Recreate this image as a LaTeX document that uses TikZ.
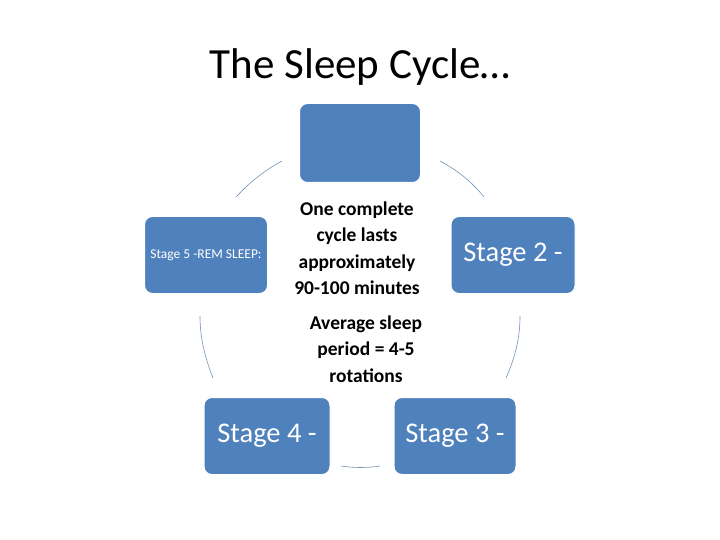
\documentclass[tikz,border=0pt]{standalone}
\usepackage{fontspec}
\setmainfont{Carlito}
\begin{document}
\begin{tikzpicture}[x=1pt,y=-1pt,
 box/.style={draw=white,line width=1pt,fill=boxblue,rounded corners=8pt,text=white,align=center,inner sep=0pt},
 big/.style={font=\fontsize{28.5}{32}\selectfont},
 mid/.style={align=center,font=\fontsize{19.5}{26.5}\selectfont\bfseries},
 arc/.style={draw=arcblue,line width=0.6pt}]
\definecolor{boxblue}{HTML}{4F81BD}
\definecolor{arcblue}{HTML}{7393B8}
\useasboundingbox (0,0) rectangle (720,540);
\node[font=\fontsize{43}{48}\selectfont] (title) at (360,67) {The Sleep Cycle…};
\node[box,minimum width=121pt,minimum height=79pt] (top) at (360,143) {};
\node[box,minimum width=123pt,minimum height=77pt,font=\fontsize{13.5}{16}\selectfont] (left) at (206,255) {Stage 5 -REM SLEEP:};
\node[box,big,minimum width=124pt,minimum height=77pt] (right) at (513,255) {Stage 2 -};
\node[box,big,minimum width=126pt,minimum height=77pt] (bl) at (267,436) {Stage 4 -};
\node[box,big,minimum width=122pt,minimum height=77pt] (br) at (455,436) {Stage 3 -};
\node[mid] (c1) at (357,248) {One complete\\cycle lasts\\approximately\\90-100 minutes};
\node[mid] (c2) at (366,349) {Average sleep\\period = 4-5\\rotations};
\coordinate (a1) at (236,197); \coordinate (a2) at (282,161);
\coordinate (b1) at (440,161); \coordinate (b2) at (484,197);
\coordinate (c1s) at (520,316); \coordinate (c1e) at (506,378);
\coordinate (d1) at (200,316); \coordinate (d2) at (213,378);
\coordinate (e1) at (341,466); \coordinate (e2) at (380,466);
\draw[arc] (a1) .. controls (250,182) and (265,170) .. (a2);
\draw[arc] (b1) .. controls (457,170) and (472,182) .. (b2);
\draw[arc] (c1s) .. controls (520,338) and (515,358) .. (c1e);
\draw[arc] (d1) .. controls (200,338) and (205,358) .. (d2);
\draw[arc] (e1) .. controls (354,468) and (367,468) .. (e2);
\end{tikzpicture}
\end{document}
